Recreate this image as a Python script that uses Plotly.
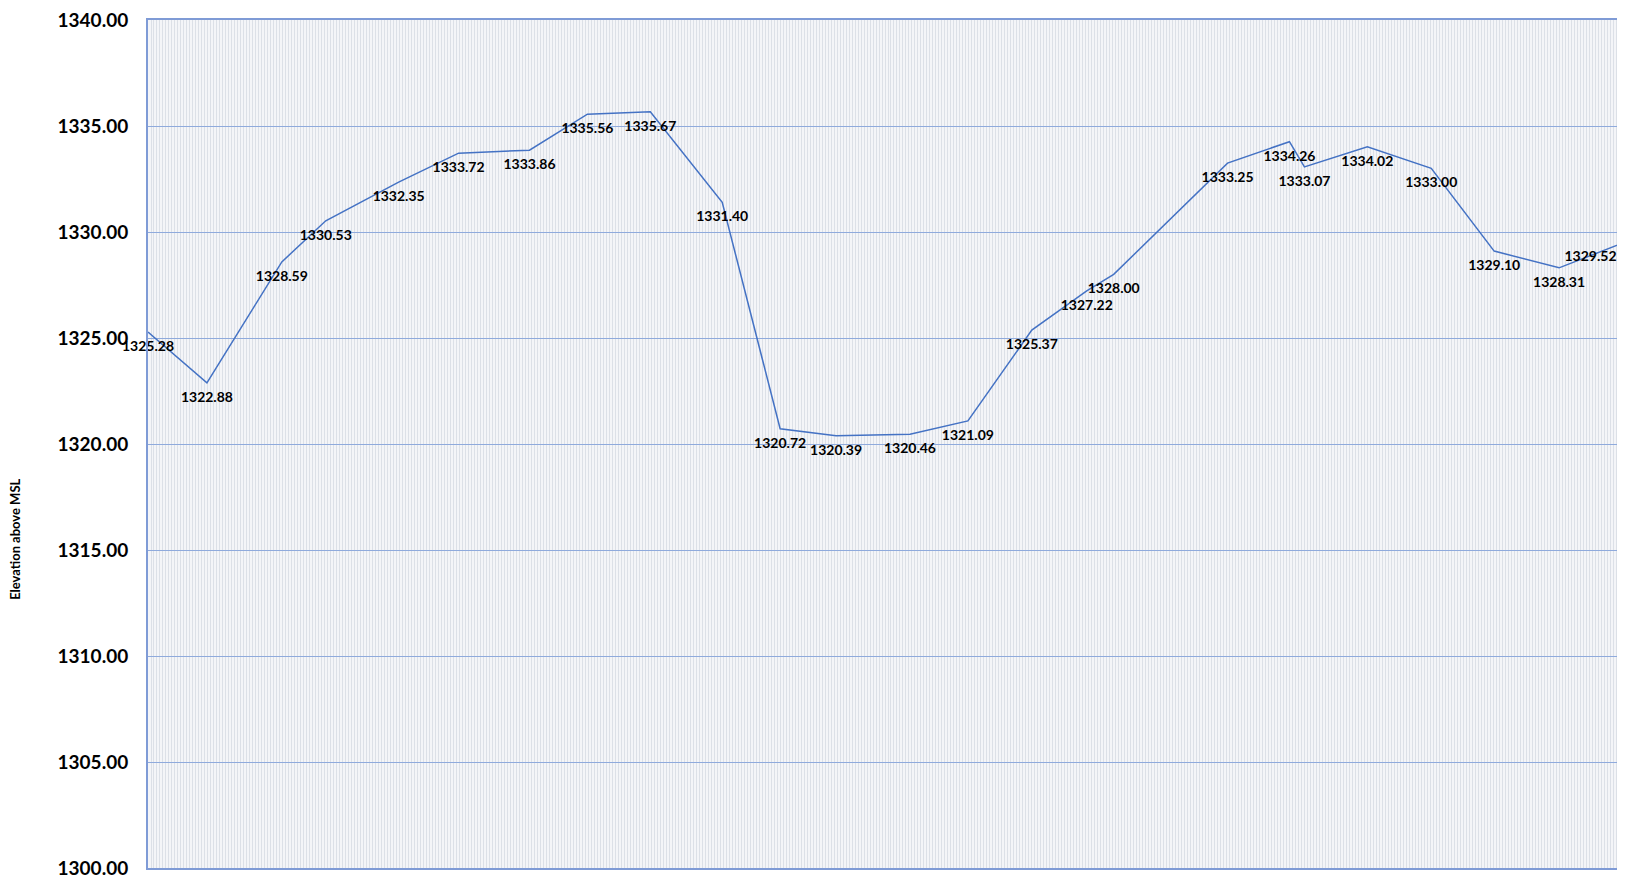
import plotly.graph_objects as go

# Chainage (distance along profile) and elevation above MSL
chainage = [0, 59, 134, 178, 251, 311, 382, 440, 503, 575, 633, 689, 763, 821,
            885, 940, 967, 1081, 1143, 1158, 1221, 1285, 1348, 1413, 1479]
elevation = [1325.28, 1322.88, 1328.59, 1330.53, 1332.35, 1333.72, 1333.86,
             1335.56, 1335.67, 1331.40, 1320.72, 1320.39, 1320.46, 1321.09,
             1325.37, 1327.22, 1328.00, 1333.25, 1334.26, 1333.07, 1334.02,
             1333.00, 1329.10, 1328.31, 1329.52]
y_ticks = [1300, 1305, 1310, 1315, 1320, 1325, 1330, 1335, 1340]
y_title = "Elevation above MSL"

labels = [f"{v:.2f}" for v in elevation]
positions = ["bottom center"] * (len(elevation) - 1) + ["bottom left"]

FONT = "Lato, 'Open Sans', Arial, sans-serif"

fig = go.Figure()
fig.add_trace(go.Scatter(
    x=chainage, y=elevation, mode="lines+markers+text",
    line=dict(color="#4472C4", width=1.5),
    marker=dict(size=12, color="rgba(0,0,0,0)"),
    text=labels, textposition=positions,
    textfont=dict(family=FONT, size=14, color="#000000", weight="bold"),
    cliponaxis=False, showlegend=False, hoverinfo="skip",
))

fig.update_layout(
    width=1617, height=871,
    margin=dict(l=140, r=0, t=3, b=10),
    paper_bgcolor="#FFFFFF",
    plot_bgcolor="#F4F5F8",
    font=dict(family=FONT),
    xaxis=dict(
        range=[0, 1479], showticklabels=False, ticks="",
        showgrid=True, gridcolor="#DCE0E7", gridwidth=1, dtick=3, tick0=0,
        zeroline=False, showline=True, linecolor="#7F9BD6", linewidth=2, mirror=True,
    ),
    yaxis=dict(
        range=[1300, 1340], tickvals=y_ticks, tickformat=".2f",
        tickfont=dict(family=FONT, size=19, color="#000000", weight="bold"),
        ticks="outside", ticklen=14, tickcolor="rgba(0,0,0,0)",
        ticklabeloverflow="allow",
        showgrid=True, gridcolor="#8FAADC", gridwidth=1,
        zeroline=False, showline=True, linecolor="#7F9BD6", linewidth=2,
    ),
    annotations=[dict(
        text=y_title, xref="paper", yref="paper",
        x=-133 / 1477, y=(869 - 537) / 858, xanchor="center", yanchor="middle",
        textangle=-90, showarrow=False,
        font=dict(family=FONT, size=13, color="#000000", weight="bold"),
    )],
)

fig.write_html("out.html")
